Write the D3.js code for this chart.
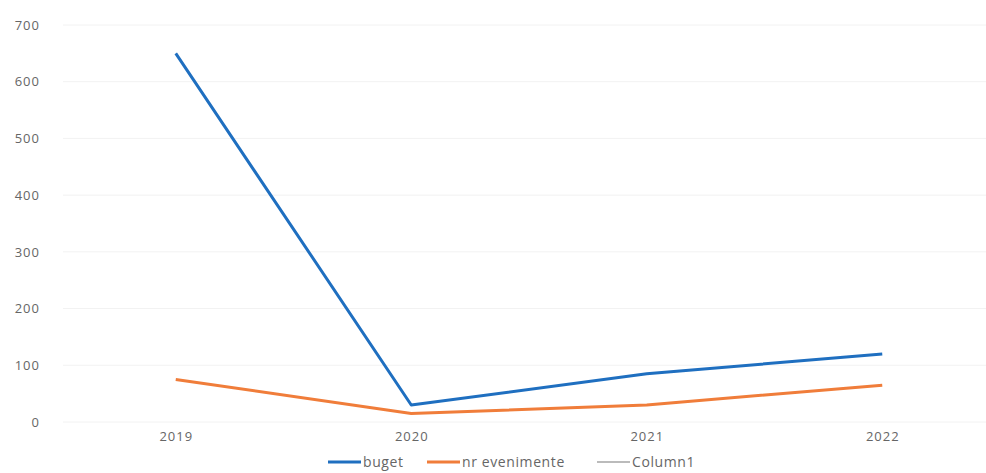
<!DOCTYPE html>
<html>
<head>
<meta charset="utf-8">
<script src="https://cdn.jsdelivr.net/npm/d3@7"></script>
<style>
  body { margin: 0; background: #fff; }
  text { font-family: "Open Sans", sans-serif; fill: #666; }
</style>
</head>
<body>
<svg id="chart" width="986" height="473"></svg>
<script>
const years = ["2019", "2020", "2021", "2022"];
const buget = [650, 30, 85, 120];
const nrEvenimente = [75, 15, 30, 65];
const column1 = []; // empty series, only in legend
const yTicks = [0, 100, 200, 300, 400, 500, 600, 700];

const svg = d3.select("#chart");
const margin = { top: 25, right: -14, bottom: 51, left: 58 };
const width = 986 - margin.left - margin.right;
const height = 473 - margin.top - margin.bottom;

const g = svg.append("g").attr("transform", `translate(${margin.left},${margin.top})`);

const x = d3.scalePoint().domain(years).range([0, width]).padding(0.5);
const y = d3.scaleLinear().domain([0, 700]).range([height, 0]);

// faint gridlines
g.selectAll(".grid")
    .data(yTicks)
    .join("line")
    .attr("class", "grid")
    .attr("x1", 5)
    .attr("x2", width)
    .attr("y1", d => y(d))
    .attr("y2", d => y(d))
    .attr("stroke", "#f2f2f2")
    .attr("stroke-width", 1);

const yAxis = g.append("g")
    .call(d3.axisLeft(y).tickValues(yTicks).tickSize(0).tickPadding(18));
yAxis.select(".domain").remove();
yAxis.selectAll("text").attr("font-size", 13).attr("letter-spacing", "1px").attr("fill", "#666");

const xAxis = g.append("g")
    .attr("transform", `translate(0,${height})`)
    .call(d3.axisBottom(x).tickSize(0).tickPadding(10));
xAxis.select(".domain").remove();
xAxis.selectAll("text").attr("font-size", 13).attr("letter-spacing", "1px").attr("fill", "#666");

const line = d3.line()
    .x((d, i) => x(years[i]))
    .y(d => y(d));

const series = [
    { name: "buget", values: buget, color: "#1f6fc0", width: 3 },
    { name: "nr evenimente", values: nrEvenimente, color: "#f07d3a", width: 3 },
    { name: "Column1", values: column1, color: "#a5a5a5", width: 1.5 }
];

g.selectAll(".series")
    .data(series.filter(s => s.values.length))
    .join("path")
    .attr("class", "series")
    .attr("fill", "none")
    .attr("stroke", d => d.color)
    .attr("stroke-width", d => d.width)
    .attr("stroke-linejoin", "round")
    .attr("d", d => line(d.values));

// legend
const legendX = [328, 427, 597];
const legend = svg.append("g").attr("transform", "translate(0,462)");
legend.selectAll("g")
    .data(series)
    .join("g")
    .attr("transform", (d, i) => `translate(${legendX[i]},0)`)
    .each(function(d) {
        const item = d3.select(this);
        item.append("line")
            .attr("x1", 0).attr("x2", 33)
            .attr("y1", 0).attr("y2", 0)
            .attr("stroke", d.color)
            .attr("stroke-width", d.width);
        item.append("text")
            .attr("x", 35)
            .attr("y", 5)
            .attr("font-size", 14)
            .attr("letter-spacing", "0.6px")
            .attr("fill", "#666")
            .text(d.name);
    });
</script>
</body>
</html>
